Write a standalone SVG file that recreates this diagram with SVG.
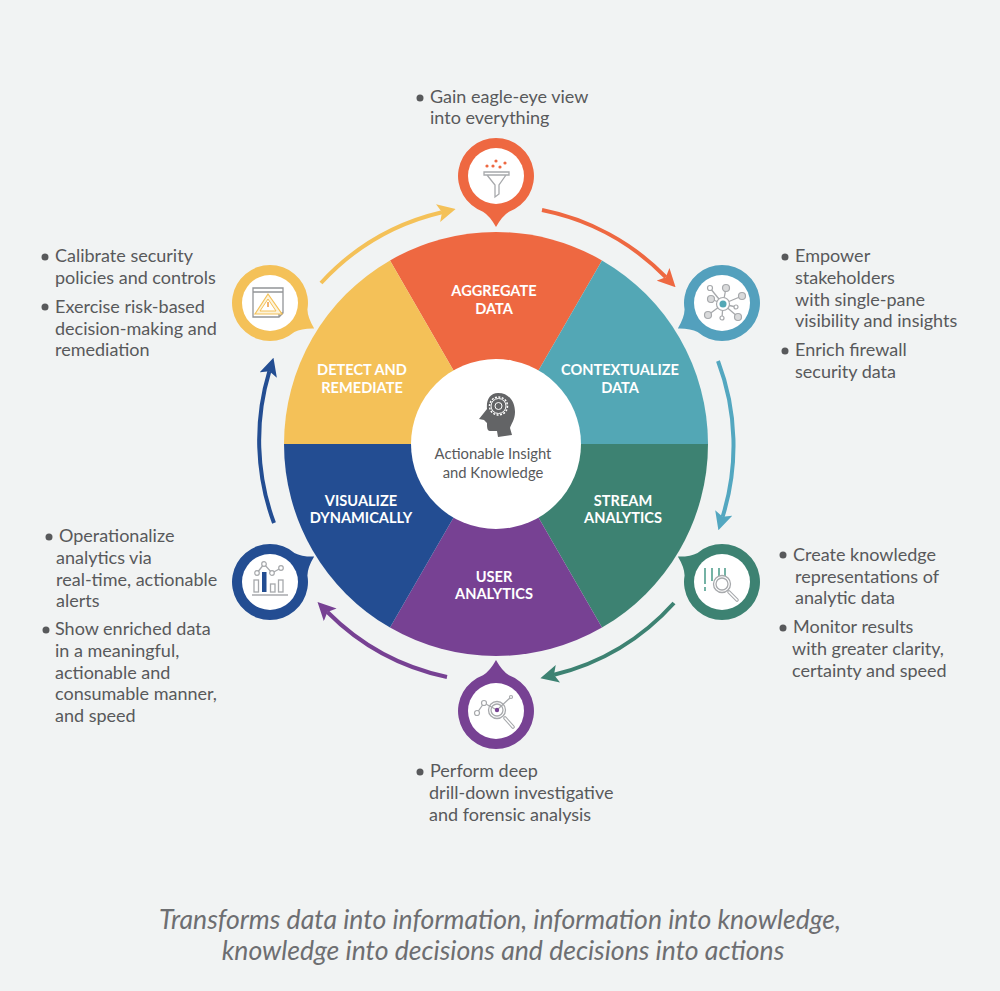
<svg xmlns="http://www.w3.org/2000/svg" width="1000" height="991" viewBox="0 0 1000 991">
<style>
text{font-family:Lato,"Open Sans",sans-serif}
.b{font-size:18px;fill:#58595b}
.bu{fill:#58595b}
.s{font-size:14.6px;font-weight:700;fill:#fff;text-anchor:middle}
.c{font-size:14.8px;fill:#58595b;text-anchor:middle}
.f{font-size:26.6px;font-style:italic;fill:#6d6e71;text-anchor:middle}
.a{fill:none;stroke-width:4}
.i{fill:none;stroke:#a7a9ac;stroke-width:1.3}
.ig{fill:#fff;stroke:#a7a9ac;stroke-width:1.2}
.n{fill:#d9dadb;stroke:#a7a9ac;stroke-width:1.2}
</style>
<defs>
<path id="pin" d="M0,-38A38,38 0 0 1 13,35.7Q6,40 0,51Q-6,40 -13,35.7A38,38 0 0 1 0,-38Z"/>
<marker id="mo" markerWidth="18" markerHeight="18" refX="4" refY="9" orient="auto" markerUnits="userSpaceOnUse" viewBox="0 0 18 18"><path d="M0,0L18,9L0,18L4,9Z" fill="#ee6841"/></marker>
<marker id="mt" markerWidth="18" markerHeight="18" refX="4" refY="9" orient="auto" markerUnits="userSpaceOnUse" viewBox="0 0 18 18"><path d="M0,0L18,9L0,18L4,9Z" fill="#53a7c0"/></marker>
<marker id="mg" markerWidth="18" markerHeight="18" refX="4" refY="9" orient="auto" markerUnits="userSpaceOnUse" viewBox="0 0 18 18"><path d="M0,0L18,9L0,18L4,9Z" fill="#3d8272"/></marker>
<marker id="mp" markerWidth="18" markerHeight="18" refX="4" refY="9" orient="auto" markerUnits="userSpaceOnUse" viewBox="0 0 18 18"><path d="M0,0L18,9L0,18L4,9Z" fill="#774193"/></marker>
<marker id="mb" markerWidth="18" markerHeight="18" refX="4" refY="9" orient="auto" markerUnits="userSpaceOnUse" viewBox="0 0 18 18"><path d="M0,0L18,9L0,18L4,9Z" fill="#234d92"/></marker>
<marker id="my" markerWidth="18" markerHeight="18" refX="4" refY="9" orient="auto" markerUnits="userSpaceOnUse" viewBox="0 0 18 18"><path d="M0,0L18,9L0,18L4,9Z" fill="#f4c158"/></marker>
</defs>
<rect width="1000" height="991" fill="#f1f3f3"/>
<g id="connectors">
<path class="a" stroke="#ee6841" marker-end="url(#mo)" d="M542,210A238,238 0 0 1 665.800,277.200"/>
<path class="a" stroke="#53a7c0" marker-end="url(#mt)" d="M718,361A238,238 0 0 1 722.600,516.800"/>
<path class="a" stroke="#3d8272" marker-end="url(#mg)" d="M674,603A238,238 0 0 1 554,674.800"/>
<path class="a" stroke="#774193" marker-end="url(#mp)" d="M447,677A238,238 0 0 1 327.400,612"/>
<path class="a" stroke="#234d92" marker-end="url(#mb)" d="M274,523A238,238 0 0 1 269.400,371.200"/>
<path class="a" stroke="#f4c158" marker-end="url(#my)" d="M321,283A238,238 0 0 1 442,212.200"/>
</g>
<g id="wheel">
<g id="aggregate"><path d="M496,444L390,260.400A212,212 0 0 1 602,260.400Z" fill="#ee6841"/><text class="s"><tspan x="494" y="296">AGGREGATE</tspan><tspan x="494" y="314">DATA</tspan></text></g>
<g id="contextualize"><path d="M496,444L602,260.400A212,212 0 0 1 708,444Z" fill="#53a7b5"/><text class="s"><tspan x="620" y="375">CONTEXTUALIZE</tspan><tspan x="620" y="393">DATA</tspan></text></g>
<g id="stream"><path d="M496,444L708,444A212,212 0 0 1 602,627.600Z" fill="#3d8272"/><text class="s"><tspan x="623" y="506">STREAM</tspan><tspan x="623" y="523">ANALYTICS</tspan></text></g>
<g id="user"><path d="M496,444L602,627.600A212,212 0 0 1 390,627.600Z" fill="#774193"/><text class="s"><tspan x="494" y="582">USER</tspan><tspan x="494" y="599">ANALYTICS</tspan></text></g>
<g id="visualize"><path d="M496,444L390,627.600A212,212 0 0 1 284,444Z" fill="#234d92"/><text class="s"><tspan x="361" y="506">VISUALIZE</tspan><tspan x="361" y="523">DYNAMICALLY</tspan></text></g>
<g id="detect"><path d="M496,444L284,444A212,212 0 0 1 390,260.400Z" fill="#f4c158"/><text class="s"><tspan x="362" y="375">DETECT AND</tspan><tspan x="362" y="393">REMEDIATE</tspan></text></g>
</g>
<g id="center">
<circle cx="496" cy="444" r="85" fill="#fff"/>
<path d="M498,393C510,393 515,403 515,412C515,420 511,424 510,428L512,435L498,437L497,431L490,431C487,431 487,427 487,423L484,420L479,419L487,409C486,400 490,393 498,393Z" fill="#636466"/>
<circle cx="498.500" cy="406" r="7.500" fill="none" stroke="#fff" stroke-width="1"/>
<circle cx="498.500" cy="406" r="9" fill="none" stroke="#fff" stroke-width="1.500" stroke-dasharray="2 1.500"/>
<circle cx="498.500" cy="406" r="3.500" fill="none" stroke="#fff" stroke-width="1"/>
<text class="c"><tspan x="493" y="459">Actionable Insight</tspan><tspan x="493" y="478">and Knowledge</tspan></text>
</g>
<g id="pin-aggregate" transform="translate(496,176)"><use href="#pin" fill="#ee6841"/><circle r="28" fill="#fff"/>
<path class="i" d="M-12,-4H13V-1H-12ZM-9,-1L-1,9V21L3,18V9L10,-1"/>
<g fill="#ee6841"><circle cx="-9" cy="-10" r="1.600"/><circle cx="-3" cy="-10" r="1.600"/><circle cx="0" cy="-15" r="1.600"/><circle cx="4" cy="-9" r="1.600"/><circle cx="9" cy="-13" r="1.600"/></g></g>
<g id="pin-contextualize" transform="translate(722,303)"><use href="#pin" transform="rotate(60)" fill="#53a0bd"/><circle r="28" fill="#fff"/>
<path class="i" d="M1,1L-12,-15M1,1L-11,-4M1,1L4,-15M1,1L20,-7M1,1L14,4M1,1L16,14M1,1L0,15M1,1L-14,12"/>
<circle cx="1" cy="1" r="6.500" class="ig"/><circle cx="-12" cy="-15" r="2.500" class="ig"/><circle cx="-11" cy="-4" r="3.500" class="n"/><circle cx="4" cy="-15" r="3.500" class="n"/><circle cx="20" cy="-7" r="3.500" class="n"/><circle cx="14" cy="4" r="2" class="ig"/><circle cx="16" cy="14" r="3.500" class="n"/><circle cx="0" cy="15" r="2" class="ig"/><circle cx="-14" cy="12" r="3.500" class="n"/>
<circle cx="1" cy="1" r="3.500" fill="#53a7b5"/></g>
<g id="pin-stream" transform="translate(722,582)"><use href="#pin" transform="rotate(120)" fill="#3d8272"/><circle r="28" fill="#fff"/>
<path d="M-17,-14V2M-17,5V9M-10,-14V-1M-3,-14V-4M3,-14V-6" fill="none" stroke="#53a08f" stroke-width="1.600"/>
<circle cx="0" cy="2" r="8.500" fill="#fff" stroke="#a7a9ac" stroke-width="1.300"/><circle cx="0" cy="2" r="6" class="i"/>
<path d="M7,10L15,18" stroke="#a7a9ac" stroke-width="3.600" stroke-linecap="round"/><path d="M7,10L15,18" stroke="#fff" stroke-width="1.500" stroke-linecap="round"/></g>
<g id="pin-user" transform="translate(496,711)"><use href="#pin" transform="rotate(180)" fill="#774193"/><circle r="28" fill="#fff"/>
<path class="i" d="M-19,2L-12,-8L1,-1L15,-14"/>
<circle cx="-19" cy="2" r="2.500" class="ig"/><circle cx="-12" cy="-8" r="2.500" class="ig"/><circle cx="15" cy="-14" r="1.500" class="ig"/>
<circle cx="1" cy="-1" r="8.500" class="i"/><circle cx="1" cy="-1" r="6" class="i"/><circle cx="1" cy="-1" r="2.200" fill="#774193"/>
<path d="M9,7L17,16" stroke="#a7a9ac" stroke-width="3.600" stroke-linecap="round"/><path d="M9,7L17,16" stroke="#fff" stroke-width="1.500" stroke-linecap="round"/></g>
<g id="pin-visualize" transform="translate(270,582)"><use href="#pin" transform="rotate(-120)" fill="#234d92"/><circle r="28" fill="#fff"/>
<path class="i" d="M-13,-9L-6,-18L2,-9L11,-14"/><circle cx="-13" cy="-9" r="2.300" class="ig"/><circle cx="-6" cy="-18" r="2.300" class="ig"/><circle cx="2" cy="-9" r="2.300" class="ig"/><circle cx="11" cy="-14" r="2.300" class="ig"/>
<rect x="-16" y="-2" width="4.500" height="12" class="i"/><rect x="-8" y="-10" width="4.500" height="20" fill="#234d92"/><rect x="0.500" y="2" width="4.500" height="8" class="i"/><rect x="8.500" y="-2" width="4.500" height="12" class="i"/>
<path d="M-18,13H18" stroke="#a7a9ac" stroke-width="1.300"/></g>
<g id="pin-detect" transform="translate(270,303)"><use href="#pin" transform="rotate(-60)" fill="#f4c158"/><circle r="28" fill="#fff"/>
<path class="i" style="stroke:#939598" d="M-17,-15H13V10L9,14H-17ZM-17,-11H13M9,14V10H13"/>
<path d="M-2,-9L12,11H-15Z" fill="#fdf3da" stroke="#f4c158" stroke-width="1.200"/><path d="M-2,-4L6,8H-10Z" fill="#fff" stroke="#f4c158" stroke-width="1"/><path d="M-2,-1V4" stroke="#ee9a41" stroke-width="1.500"/></g>
<g id="text-aggregate"><circle class="bu" cx="420" cy="98" r="3.500"/><text class="b"><tspan x="430" y="103">Gain eagle-eye view</tspan><tspan x="430" y="124">into everything</tspan></text></g>
<g id="text-contextualize"><circle class="bu" cx="785" cy="257" r="3.500"/><circle class="bu" cx="785" cy="351" r="3.500"/><text class="b"><tspan x="795" y="262">Empower</tspan><tspan x="795" y="284">stakeholders</tspan><tspan x="795" y="306">with single-pane</tspan><tspan x="795" y="327">visibility and insights</tspan><tspan x="795" y="356">Enrich firewall</tspan><tspan x="795" y="378">security data</tspan></text></g>
<g id="text-stream"><circle class="bu" cx="783" cy="555" r="3.500"/><circle class="bu" cx="783" cy="628" r="3.500"/><text class="b"><tspan x="793" y="561">Create knowledge</tspan><tspan x="795" y="583">representations of</tspan><tspan x="795" y="604">analytic data</tspan><tspan x="793" y="633">Monitor results</tspan><tspan x="792" y="655">with greater clarity,</tspan><tspan x="792" y="677">certainty and speed</tspan></text></g>
<g id="text-user"><circle class="bu" cx="420" cy="772" r="3.500"/><text class="b"><tspan x="430" y="777">Perform deep</tspan><tspan x="429" y="799">drill-down investigative</tspan><tspan x="429" y="821">and forensic analysis</tspan></text></g>
<g id="text-visualize"><circle class="bu" cx="49" cy="537" r="3.500"/><circle class="bu" cx="46" cy="630" r="3.500"/><text class="b"><tspan x="59" y="542">Operationalize</tspan><tspan x="56" y="564">analytics via</tspan><tspan x="56" y="586">real-time, actionable</tspan><tspan x="56" y="607">alerts</tspan><tspan x="55" y="635">Show enriched data</tspan><tspan x="55" y="657">in a meaningful,</tspan><tspan x="55" y="679">actionable and</tspan><tspan x="55" y="700">consumable manner,</tspan><tspan x="55" y="722">and speed</tspan></text></g>
<g id="text-detect"><circle class="bu" cx="45" cy="257" r="3.500"/><circle class="bu" cx="45" cy="307" r="3.500"/><text class="b"><tspan x="55" y="262">Calibrate security</tspan><tspan x="55" y="284">policies and controls</tspan><tspan x="55" y="313">Exercise risk-based</tspan><tspan x="55" y="335">decision-making and</tspan><tspan x="55" y="356">remediation</tspan></text></g>
<g id="caption"><text class="f"><tspan x="500" y="929">Transforms data into information, information into knowledge,</tspan><tspan x="503" y="960">knowledge into decisions and decisions into actions</tspan></text></g>
</svg>
